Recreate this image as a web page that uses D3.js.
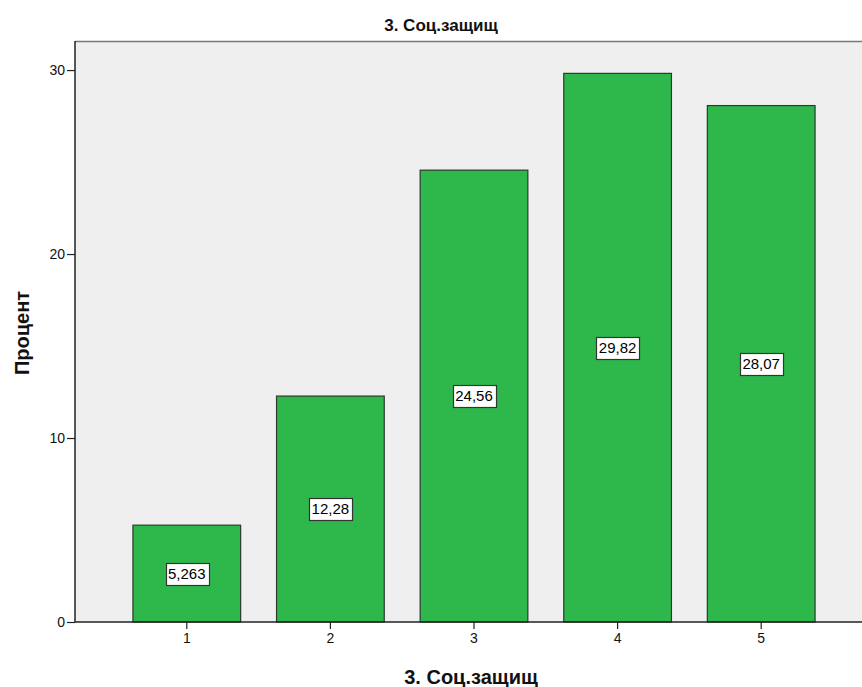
<!DOCTYPE html>
<html><head><meta charset="utf-8">
<script src="https://cdn.jsdelivr.net/npm/d3@7"></script>
<style>body{margin:0;background:#fff}svg{display:block}</style>
</head><body>
<svg id="c" width="862" height="687"></svg>
<script>
const categories = ["1","2","3","4","5"];
const values = [5.263, 12.28, 24.56, 29.82, 28.07];
const labels = ["5,263","12,28","24,56","29,82","28,07"];
const yTicks = [0,10,20,30];
const title = "3. Соц.защищ";
const xTitle = "3. Соц.защищ";
const yTitle = "Процент";

const svg = d3.select("#c");
const L = 75, R = 873, T = 41, B = 622;
const y = d3.scaleLinear().domain([0, 31.58]).range([B, T]);
const x = d3.scaleBand().domain(categories).range([L, R]).paddingInner(0.25).paddingOuter(0.4035);
const font = "Arial, 'Liberation Sans', sans-serif";

svg.append("rect").attr("x", L).attr("y", T).attr("width", R - L).attr("height", B - T).attr("fill", "#efefef");
svg.append("line").attr("x1", L).attr("x2", R).attr("y1", T + 0.5).attr("y2", T + 0.5).attr("stroke", "#777").attr("stroke-width", 1.5);

const bars = svg.append("g");
bars.selectAll("rect").data(values).join("rect")
  .attr("x", (d, i) => x(categories[i]))
  .attr("width", x.bandwidth())
  .attr("y", d => y(d))
  .attr("height", d => B - y(d))
  .attr("fill", "#2eb84b")
  .attr("stroke", "#2b3a2e").attr("stroke-width", 1.2);

const lab = svg.append("g");
values.forEach((v, i) => {
  const cx = x(categories[i]) + x.bandwidth() / 2;
  const cy = (y(v) + B) / 2;
  const t = lab.append("text").attr("x", cx).attr("y", cy).attr("dy", "0.36em")
    .attr("text-anchor", "middle").attr("font-family", font).attr("font-size", 15).attr("fill", "#000").text(labels[i]);
  const bb = t.node().getBBox();
  lab.insert("rect", "text").attr("x", Math.round(bb.x - 2.5) + 0.5).attr("y", Math.round(cy - 11) + 0.5)
    .attr("width", Math.round(bb.width + 5)).attr("height", 22)
    .attr("fill", "#fff").attr("stroke", "#333").attr("stroke-width", 1.2);
});

const ya = svg.append("g").attr("transform", `translate(${L},0)`)
  .call(d3.axisLeft(y).tickValues(yTicks).tickSize(8).tickPadding(2).tickFormat(d3.format("d")));
ya.select(".domain").remove();
ya.selectAll("text").attr("font-family", font).attr("font-size", 14).attr("fill", "#111");
ya.selectAll("line").attr("stroke", "#222").attr("stroke-width", 1.2);

const xa = svg.append("g").attr("transform", `translate(0,${B})`)
  .call(d3.axisBottom(x).tickSize(7).tickPadding(4));
xa.select(".domain").remove();
xa.selectAll("text").attr("font-family", font).attr("font-size", 14).attr("fill", "#111");
xa.selectAll("line").attr("stroke", "#222").attr("stroke-width", 1.2);

svg.append("line").attr("x1", L).attr("x2", L).attr("y1", T).attr("y2", B).attr("stroke", "#222").attr("stroke-width", 1.5);
svg.append("line").attr("x1", L).attr("x2", R).attr("y1", B).attr("y2", B).attr("stroke", "#222").attr("stroke-width", 1.5);

svg.append("text").attr("x", 441).attr("y", 31).attr("text-anchor", "middle")
  .attr("font-family", font).attr("font-weight", "bold").attr("font-size", 17).attr("fill", "#111").text(title);
svg.append("text").attr("x", 471).attr("y", 684).attr("text-anchor", "middle")
  .attr("font-family", font).attr("font-weight", "bold").attr("font-size", 20).attr("fill", "#111").text(xTitle);
svg.append("text").attr("transform", "translate(29,333) rotate(-90)").attr("text-anchor", "middle")
  .attr("font-family", font).attr("font-weight", "bold").attr("font-size", 20).attr("fill", "#111").text(yTitle);
</script>
</body></html>
